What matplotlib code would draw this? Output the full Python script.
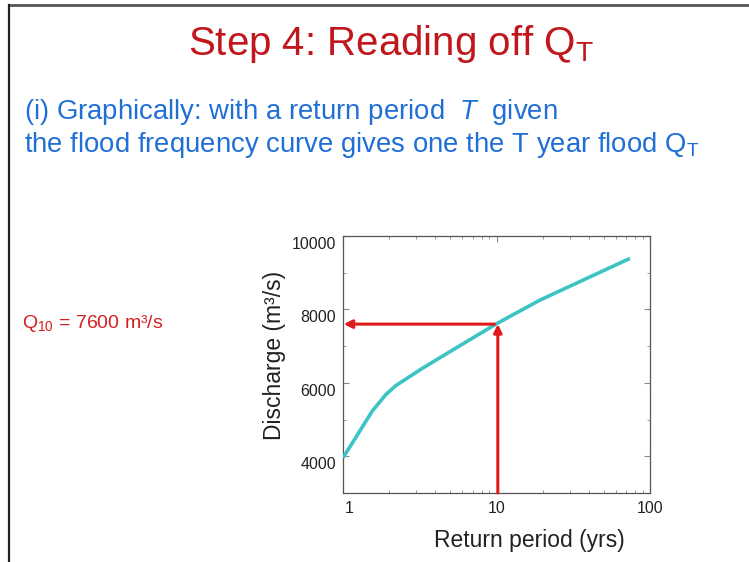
import numpy as np
import matplotlib.pyplot as plt
from matplotlib.ticker import FixedLocator, NullFormatter
from matplotlib.transforms import ScaledTranslation

plt.rcParams['font.family'] = ['Liberation Sans', 'DejaVu Sans']
plt.rcParams['mathtext.fontset'] = 'custom'
plt.rcParams['mathtext.rm'] = 'Liberation Sans'
plt.rcParams['mathtext.it'] = 'Liberation Sans:italic'

# flood frequency curve
T_curve = [1.0, 1.27, 1.55, 1.9, 2.2, 3.3, 5.45, 10, 19.1, 36.7, 74]
Q_curve = [3960, 4650, 5230, 5680, 5920, 6400, 6950, 7610, 8250, 8800, 9390]
T_read = 10
Q_read = 7600
x_ticks = [1, 10, 100]
y_ticks = [4000, 6000, 8000, 10000]

W, H = 749, 562
fig = plt.figure(figsize=(W / 100, H / 100), dpi=100)
fig.patch.set_facecolor('white')

# slide frame
fig.add_artist(plt.Line2D([8.5 / W, 1], [1 - 5 / H, 1 - 5 / H], color='#555555', lw=2))
fig.add_artist(plt.Line2D([8.5 / W, 8.5 / W], [0, 1 - 5 / H], color='#222222', lw=1.6))

red_dark = '#c0161c'
blue = '#1f6fd6'
fig.text(391 / W, 1 - 55 / H, r'Step 4: Reading off Q$_\mathrm{T}$', color=red_dark,
         fontsize=29, ha='center', va='baseline')
fig.text(24 / W, 1 - 119 / H, r'(i) Graphically: with a return period  $T$  given',
         color=blue, fontsize=19.8, ha='left', va='baseline')
fig.text(24 / W, 1 - 152 / H, r'the flood frequency curve gives one the T year flood Q$_\mathrm{T}$',
         color=blue, fontsize=19.8, ha='left', va='baseline')
fig.text(22 / W, 1 - 323 / H, r'Q$_\mathrm{10}$ = 7600 m³/s', color='#d42020',
         fontsize=14, ha='left', va='center')

ax = fig.add_axes([343 / W, 1 - 493 / H, 307 / W, 257 / H])
ax.set_xscale('log')
ax.set_xlim(1, 100)
ax.set_ylim(3000, 10000)

ax.plot(T_curve, Q_curve, color='#3cc4c4', lw=2.6, solid_capstyle='butt',
        solid_joinstyle='round', zorder=3)

arrow = dict(arrowstyle='-|>', color='#e01b1b', lw=2.2, mutation_scale=12,
             shrinkA=0, shrinkB=0)
ax.annotate('', xy=(1.01, Q_read), xytext=(T_read * 0.97, Q_read), arrowprops=arrow, zorder=4)
ax.annotate('', xy=(T_read * 1.02, Q_read), xytext=(T_read * 1.02, 3000), arrowprops=arrow, zorder=4)

ax.set_xticks(x_ticks)
ax.set_xticklabels([str(t) for t in x_ticks])
ax.xaxis.set_minor_locator(FixedLocator([m * d for d in (1, 10) for m in range(2, 10)]))
ax.xaxis.set_minor_formatter(NullFormatter())
ax.set_yticks(y_ticks)
ax.set_yticklabels([str(t) for t in y_ticks])
ax.yaxis.set_minor_locator(FixedLocator(np.arange(3000, 10001, 1000)))
ax.tick_params(which='both', direction='in', top=True, right=True, color='#888888',
               labelsize=11.5, labelcolor='#222222')
ax.tick_params(which='major', length=4, width=0.8)
ax.tick_params(which='minor', length=2.5, width=0.6)
ax.tick_params(axis='x', pad=6)
ax.tick_params(axis='y', pad=5)
for s in ax.spines.values():
    s.set_color('#555555')
    s.set_linewidth(0.9)

# the slide's tick labels sit a little below their ticks
shift = ScaledTranslation(0, -7 / 100, fig.dpi_scale_trans)
for lab in ax.get_yticklabels():
    lab.set_transform(lab.get_transform() + shift)
first = ax.get_xticklabels()[0]
first.set_transform(first.get_transform() + ScaledTranslation(6 / 100, 0, fig.dpi_scale_trans))

ax.set_ylabel('Discharge (m³/s)', fontsize=16.5, color='#222222')
ax.set_xlabel('Return period (yrs)', fontsize=16.5, color='#222222')
ax.yaxis.label.set_va('center')
ax.xaxis.label.set_va('center')
ax.yaxis.set_label_coords((274 - 343) / 307, (493 - 355) / 257)
ax.xaxis.set_label_coords((529 - 343) / 307, (493 - 540) / 257)

fig.savefig('out.png', dpi=100)
